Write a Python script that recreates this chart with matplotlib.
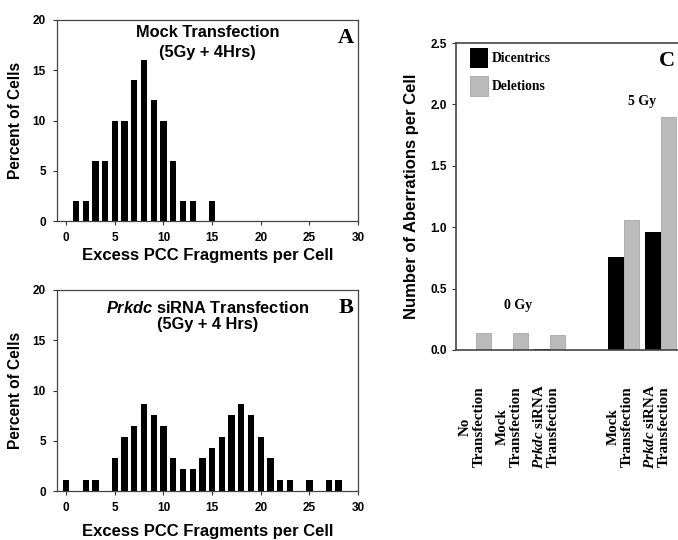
import numpy as np
import matplotlib
matplotlib.use("Agg")
import matplotlib.pyplot as plt
from matplotlib.transforms import blended_transform_factory

plt.rcParams["font.family"] = "Liberation Sans"
plt.rcParams["font.weight"] = "bold"
plt.rcParams["mathtext.fontset"] = "custom"
plt.rcParams["mathtext.it"] = "Liberation Serif:italic:bold"
plt.rcParams["mathtext.sf"] = "Liberation Sans:italic:bold"
plt.rcParams["mathtext.rm"] = "Liberation Serif:bold"

# ---- data ----
# panel A: mock transfection, percent of cells per excess fragments
frag_a = [1, 2, 3, 4, 5, 6, 7, 8, 9, 10, 11, 12, 13, 15]
pct_a = [2, 2, 6, 6, 10, 10, 14, 16, 12, 10, 6, 2, 2, 2]

# panel B: Prkdc siRNA transfection
frag_b = [0, 2, 3, 5, 6, 7, 8, 9, 10, 11, 12, 13, 14, 15, 16, 17, 18, 19,
          20, 21, 22, 23, 25, 27, 28]
pct_b = [1.1, 1.1, 1.1, 3.3, 5.4, 6.5, 8.7, 7.6, 6.5, 3.3, 2.2, 2.2, 3.3, 4.3,
         5.4, 7.6, 8.7, 7.6, 5.4, 3.3, 1.1, 1.1, 1.1, 1.1, 1.1]

# panel C: aberrations per cell
groups = ["No\nTransfection", "Mock\nTransfection",
          "$\\mathit{Prkdc}$ siRNA\nTransfection",
          "Mock\nTransfection", "$\\mathit{Prkdc}$ siRNA\nTransfection"]
group_pos = [0, 1, 2, 4, 5]
dicentrics = [0.0, 0.0, 0.01, 0.76, 0.96]
deletions = [0.135, 0.135, 0.122, 1.06, 1.90]

W, H = 678, 540
fig = plt.figure(figsize=(6.78, 5.4), dpi=100)


def px_axes(l, t, r, b):
    return fig.add_axes([l / W, 1 - b / H, (r - l) / W, (b - t) / H])


def style_hist(ax, xpad):
    ax.set_xlim(-0.95, 30)
    ax.set_ylim(0, 20)
    ax.set_xticks(np.arange(0, 31, 5))
    ax.set_yticks(np.arange(0, 21, 5))
    ax.tick_params(direction="out", length=3, width=0.8, labelsize=8.5, pad=5,
                   color="#333333")
    for s in ax.spines.values():
        s.set_color("#444444")
        s.set_linewidth(0.9)
    ax.set_xlabel("Excess PCC Fragments per Cell", fontsize=12, fontweight="bold",
                  labelpad=xpad)
    ax.set_ylabel("Percent of Cells", fontsize=11.2, fontweight="bold", labelpad=7)


# Panel A
axA = px_axes(57, 20, 358, 221)
axA.bar(frag_a, pct_a, width=0.65, color="black")
style_hist(axA, 3)
axA.text(0.5, 0.975, "Mock Transfection\n(5Gy + 4Hrs)", transform=axA.transAxes,
         ha="center", va="top", fontsize=11.8, fontweight="bold", linespacing=1.45)
axA.text(0.985, 0.96, "A", transform=axA.transAxes, ha="right", va="top",
         fontsize=16, fontweight="bold", family="Liberation Serif")

# Panel B
axB = px_axes(57, 290, 358, 491)
axB.bar(frag_b, pct_b, width=0.65, color="black")
style_hist(axB, 7)
axB.text(0.5, 0.95, "$\\mathsf{Prkdc}$ siRNA Transfection\n(5Gy + 4 Hrs)",
         transform=axB.transAxes, ha="center", va="top", fontsize=11.8,
         fontweight="bold", linespacing=1.1)
axB.text(0.985, 0.96, "B", transform=axB.transAxes, ha="right", va="top",
         fontsize=16, fontweight="bold", family="Liberation Serif")

# Panel C
axC = px_axes(456, 43, 683, 350)
xs = np.array(group_pos)
bw = 0.42
axC.bar(xs - bw / 2, dicentrics, width=bw, color="black", label="Dicentrics")
axC.bar(xs + bw / 2, deletions, width=bw, color="#bbbbbb", edgecolor="#a8a8a8",
        linewidth=0.6, label="Deletions")
axC.set_xlim(-0.54, 5.6)
axC.set_ylim(0, 2.5)
axC.set_yticks(np.arange(0, 2.51, 0.5))
axC.set_yticklabels([f"{v:.1f}" for v in np.arange(0, 2.51, 0.5)])
axC.set_xticks([])
axC.tick_params(axis="y", direction="out", length=3, width=0.8, labelsize=8.5,
                color="#333333")
for s in axC.spines.values():
    s.set_color("#444444")
    s.set_linewidth(1.2)
axC.set_ylabel("Number of Aberrations per Cell", fontsize=12, fontweight="bold",
               labelpad=8)

trans = blended_transform_factory(axC.transData, axC.transAxes)
for x, lab in zip(group_pos, groups):
    axC.text(x - 0.1, -0.25, lab, transform=trans, rotation=90, ha="center",
             va="center", multialignment="center", fontsize=10.8,
             family="Liberation Serif", fontweight="bold", linespacing=1.05,
             clip_on=False)

axC.text(1.15, 0.31, "0 Gy", ha="center", va="bottom", fontsize=10,
         family="Liberation Serif", fontweight="bold")
axC.text(4.5, 1.97, "5 Gy", ha="center", va="bottom", fontsize=10,
         family="Liberation Serif", fontweight="bold")
axC.text(0.965, 0.975, "C", transform=axC.transAxes, ha="right", va="top",
         fontsize=16, fontweight="bold", family="Liberation Serif")

axC.legend(loc="upper left", frameon=False, handlelength=1.33, handleheight=1.88,
           labelspacing=0.6, handletextpad=0.3, borderaxespad=0.0,
           borderpad=0.0, bbox_to_anchor=(0.062, 0.984),
           prop={"family": "Liberation Serif", "weight": "bold", "size": 9.8})

fig.savefig("out.png", dpi=100)
